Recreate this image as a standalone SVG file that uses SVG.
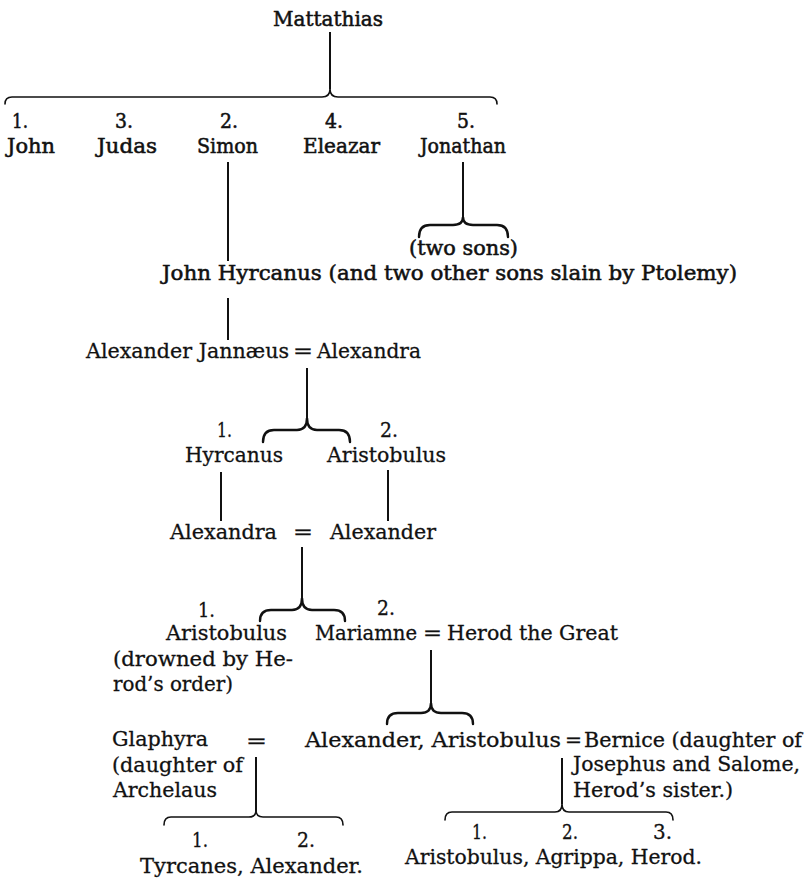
<svg xmlns="http://www.w3.org/2000/svg" width="810" height="880" viewBox="0 0 810 880">
<style>
text{font-family:"DejaVu Serif","Liberation Serif",serif;font-size:21px;fill:#111;stroke:#111;stroke-width:0.3;}
.b{stroke-width:0.55;}
.ln{stroke:#111;stroke-width:2;fill:none;}
.br{stroke:#111;stroke-width:2.4;fill:none;stroke-linecap:round;}
.bt{stroke:#111;stroke-width:1.6;fill:none;stroke-linecap:round;}
</style>
<rect width="810" height="880" fill="#fff"/>
<g id="connectors">
<line class="ln" x1="330" y1="32" x2="330" y2="89"/>
<path class="bt" d="M5 104 Q5 97 12 97 L322 97 Q330 97 330 89 Q330 97 338 97 L490 97 Q497 97 497 104"/>
<line class="ln" x1="228" y1="162" x2="228" y2="261"/>
<line class="ln" x1="463" y1="162" x2="463" y2="217"/>
<path class="br" d="M419 237 Q419 225 430 225 L453 225 Q463 225 463 217 Q463 225 473 225 L497 225 Q508 225 508 237"/>
<line class="ln" x1="228" y1="298" x2="228" y2="340"/>
<line class="ln" x1="307" y1="368" x2="307" y2="418"/>
<path class="br" d="M263 442 Q263 430 274 430 L297 430 Q307 430 307 418 Q307 430 317 430 L339 430 Q350 430 350 442"/>
<line class="ln" x1="221" y1="472" x2="221" y2="521"/>
<line class="ln" x1="388" y1="470" x2="388" y2="521"/>
<line class="ln" x1="302" y1="547" x2="302" y2="598"/>
<path class="br" d="M260 621 Q260 610 271 610 L292 610 Q302 610 302 598 Q302 610 312 610 L334 610 Q345 610 345 621"/>
<line class="ln" x1="431" y1="650" x2="431" y2="703"/>
<path class="br" d="M387 724 Q387 713 398 713 L421 713 Q431 713 431 703 Q431 713 441 713 L462 713 Q473 713 473 724"/>
<line class="ln" x1="256" y1="757" x2="256" y2="811"/>
<path class="bt" d="M164 825 Q164 817 171 817 L249 817 Q256 817 256 810 Q256 817 263 817 L336 817 Q343 817 343 825"/>
<line class="ln" x1="562" y1="758" x2="562" y2="804"/>
<path class="bt" d="M445 820 Q445 812 452 812 L555 812 Q562 812 562 804 Q562 812 569 812 L666 812 Q673 812 673 820"/>
</g>
<g id="mattathias"><text class="b" x="273" y="26" textLength="110" lengthAdjust="spacingAndGlyphs">Mattathias</text></g>
<g id="john"><text class="b" x="12" y="128" textLength="16" lengthAdjust="spacingAndGlyphs">1.</text><text class="b" x="7" y="153" textLength="48" lengthAdjust="spacingAndGlyphs">John</text></g>
<g id="judas"><text class="b" x="115" y="128" textLength="18" lengthAdjust="spacingAndGlyphs">3.</text><text class="b" x="97" y="153" textLength="60" lengthAdjust="spacingAndGlyphs">Judas</text></g>
<g id="simon"><text class="b" x="220" y="128" textLength="18" lengthAdjust="spacingAndGlyphs">2.</text><text class="b" x="197" y="153" textLength="61" lengthAdjust="spacingAndGlyphs">Simon</text></g>
<g id="eleazar"><text class="b" x="325" y="128" textLength="18" lengthAdjust="spacingAndGlyphs">4.</text><text class="b" x="303" y="153" textLength="77" lengthAdjust="spacingAndGlyphs">Eleazar</text></g>
<g id="jonathan"><text class="b" x="457" y="128" textLength="18" lengthAdjust="spacingAndGlyphs">5.</text><text class="b" x="420" y="153" textLength="86" lengthAdjust="spacingAndGlyphs">Jonathan</text></g>
<g id="two-sons"><text class="b" x="409" y="255" textLength="109" lengthAdjust="spacingAndGlyphs">(two sons)</text></g>
<g id="john-hyrcanus"><text class="b" x="162" y="280" textLength="575" lengthAdjust="spacingAndGlyphs">John Hyrcanus (and two other sons slain by Ptolemy)</text></g>
<g id="alexander-jannaeus"><text x="86" y="358" textLength="203" lengthAdjust="spacingAndGlyphs">Alexander Jannæus</text><text x="293" y="358" textLength="20" lengthAdjust="spacingAndGlyphs">=</text></g>
<g id="alexandra-1"><text x="317" y="358" textLength="104" lengthAdjust="spacingAndGlyphs">Alexandra</text></g>
<g id="hyrcanus"><text x="217" y="437" textLength="15" lengthAdjust="spacingAndGlyphs">1.</text><text x="185" y="462" textLength="98" lengthAdjust="spacingAndGlyphs">Hyrcanus</text></g>
<g id="aristobulus-1"><text x="380" y="437" textLength="18" lengthAdjust="spacingAndGlyphs">2.</text><text x="327" y="462" textLength="119" lengthAdjust="spacingAndGlyphs">Aristobulus</text></g>
<g id="alexandra-2"><text x="170" y="539" textLength="107" lengthAdjust="spacingAndGlyphs">Alexandra</text><text x="293" y="539" textLength="20" lengthAdjust="spacingAndGlyphs">=</text></g>
<g id="alexander-1"><text x="330" y="539" textLength="106" lengthAdjust="spacingAndGlyphs">Alexander</text></g>
<g id="aristobulus-2"><text x="198" y="617" textLength="17" lengthAdjust="spacingAndGlyphs">1.</text><text x="166" y="640" textLength="121" lengthAdjust="spacingAndGlyphs">Aristobulus</text><text x="113" y="666" textLength="180" lengthAdjust="spacingAndGlyphs">(drowned by He-</text><text x="113" y="691" textLength="120" lengthAdjust="spacingAndGlyphs">rod’s order)</text></g>
<g id="mariamne"><text x="377" y="615" textLength="18" lengthAdjust="spacingAndGlyphs">2.</text><text x="315" y="640" textLength="102" lengthAdjust="spacingAndGlyphs">Mariamne</text><text x="423" y="640" textLength="19" lengthAdjust="spacingAndGlyphs">=</text></g>
<g id="herod-the-great"><text x="447" y="640" textLength="171" lengthAdjust="spacingAndGlyphs">Herod the Great</text></g>
<g id="glaphyra"><text x="112" y="746" textLength="96" lengthAdjust="spacingAndGlyphs">Glaphyra</text><text x="112" y="772" textLength="131" lengthAdjust="spacingAndGlyphs">(daughter of</text><text x="113" y="797" textLength="104" lengthAdjust="spacingAndGlyphs">Archelaus</text><text x="246" y="748" textLength="21" lengthAdjust="spacingAndGlyphs">=</text></g>
<g id="alexander-aristobulus"><text x="305" y="747" textLength="256" lengthAdjust="spacingAndGlyphs">Alexander, Aristobulus</text><text x="565" y="747" textLength="17" lengthAdjust="spacingAndGlyphs">=</text></g>
<g id="bernice"><text x="584" y="747" textLength="218" lengthAdjust="spacingAndGlyphs">Bernice (daughter of</text><text x="573" y="771" textLength="227" lengthAdjust="spacingAndGlyphs">Josephus and Salome,</text><text x="573" y="797" textLength="160" lengthAdjust="spacingAndGlyphs">Herod’s sister.)</text></g>
<g id="tyrcanes-alexander"><text x="192" y="847" textLength="16" lengthAdjust="spacingAndGlyphs">1.</text><text x="297" y="847" textLength="18" lengthAdjust="spacingAndGlyphs">2.</text><text x="140" y="873" textLength="223" lengthAdjust="spacingAndGlyphs">Tyrcanes, Alexander.</text></g>
<g id="aristobulus-agrippa-herod"><text x="472" y="839" textLength="15" lengthAdjust="spacingAndGlyphs">1.</text><text x="562" y="839" textLength="16" lengthAdjust="spacingAndGlyphs">2.</text><text x="653" y="839" textLength="19" lengthAdjust="spacingAndGlyphs">3.</text><text x="405" y="864" textLength="297" lengthAdjust="spacingAndGlyphs">Aristobulus, Agrippa, Herod.</text></g>
</svg>
